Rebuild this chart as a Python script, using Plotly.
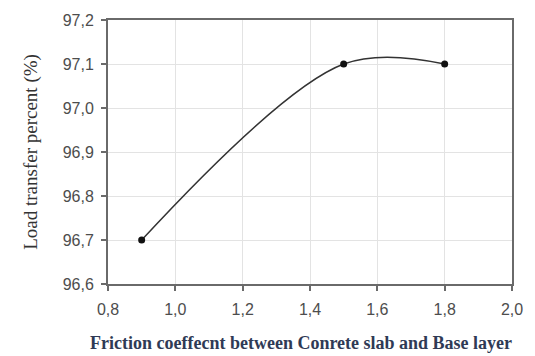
import plotly.graph_objects as go

friction = [0.9, 1.5, 1.8]
load_transfer = [96.7, 97.1, 97.1]
x_ticks = [0.8, 1.0, 1.2, 1.4, 1.6, 1.8, 2.0]
x_labels = ["0,8", "1,0", "1,2", "1,4", "1,6", "1,8", "2,0"]
y_ticks = [96.6, 96.7, 96.8, 96.9, 97.0, 97.1, 97.2]
y_labels = ["96,6", "96,7", "96,8", "96,9", "97,0", "97,1", "97,2"]

fig = go.Figure()
fig.add_trace(go.Scatter(
    x=friction, y=load_transfer, mode="lines+markers",
    line=dict(color="#333333", width=1.5, shape="spline", smoothing=1.0),
    marker=dict(color="#111111", size=7),
    showlegend=False,
))

tickfont = dict(family="Liberation Sans, Arial", size=16, color="#4d4d4d")
fig.update_xaxes(
    range=[0.8, 2.0], tickvals=x_ticks, ticktext=x_labels,
    showline=True, linecolor="#6a6a6a", linewidth=2, mirror=True,
    ticks="outside", ticklen=5, tickcolor="#6a6a6a", tickwidth=2,
    showgrid=True, gridcolor="#e3e3e3", gridwidth=1, zeroline=False,
    tickfont=tickfont, ticklabelstandoff=5,
)
fig.update_yaxes(
    range=[96.6, 97.2], tickvals=y_ticks, ticktext=y_labels,
    showline=True, linecolor="#6a6a6a", linewidth=2, mirror=True,
    ticks="outside", ticklen=5, tickcolor="#6a6a6a", tickwidth=2,
    showgrid=True, gridcolor="#e3e3e3", gridwidth=1, zeroline=False,
    tickfont=tickfont, ticklabelstandoff=4,
    title=dict(text="Load transfer percent (%)",
               font=dict(family="Liberation Serif, Times New Roman", size=19, color="#333333"),
               standoff=20),
)
fig.add_annotation(
    text="<b>Friction coeffecnt between Conrete slab and Base layer</b>",
    xref="paper", yref="paper", x=0.478, y=0, yshift=-59,
    xanchor="center", yanchor="middle", showarrow=False,
    font=dict(family="Liberation Serif, Times New Roman", size=18, color="#2f3a55"),
)
fig.update_layout(
    width=535, height=356,
    margin=dict(l=108, r=15, t=15, b=72),
    plot_bgcolor="white", paper_bgcolor="white",
)
fig.write_html("out.html")
